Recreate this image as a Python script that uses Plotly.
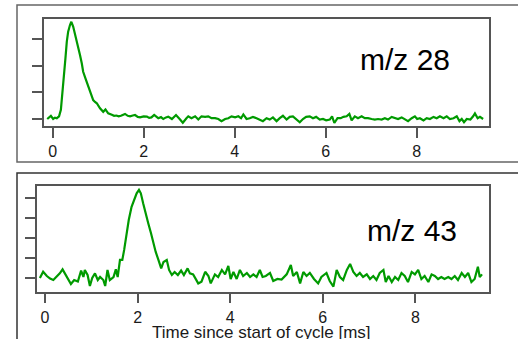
import plotly.graph_objects as go

W, H = 518, 339

# ---- data (time in ms, signal in tick units) ----
T28 = [-0.12, -0.04, 0.01, 0.05, 0.09, 0.14, 0.18, 0.22, 0.25, 0.28, 0.31, 0.34, 0.38, 0.41,
       0.45, 0.49, 0.53, 0.56, 0.60, 0.64, 0.67, 0.72, 0.78, 0.84, 0.89, 0.93, 0.97, 1.04,
       1.11, 1.16, 1.22, 1.30, 1.35, 1.40, 1.45, 1.50, 1.59, 1.65, 1.70, 1.76, 1.81, 1.87,
       1.92, 2.00, 2.07, 2.12, 2.17, 2.23, 2.32, 2.38, 2.43, 2.49, 2.54, 2.62, 2.71, 2.79,
       2.86, 2.94, 2.98, 3.05, 3.13, 3.20, 3.27, 3.35, 3.42, 3.49, 3.57, 3.64, 3.71, 3.79,
       3.86, 3.93, 4.01, 4.08, 4.14, 4.19, 4.26, 4.33, 4.40, 4.48, 4.55, 4.62, 4.70, 4.77,
       4.84, 4.92, 4.99, 5.06, 5.14, 5.21, 5.28, 5.36, 5.43, 5.50, 5.57, 5.65, 5.72, 5.79,
       5.87, 5.94, 6.01, 6.09, 6.14, 6.19, 6.26, 6.33, 6.39, 6.46, 6.52, 6.57, 6.64, 6.71,
       6.79, 6.86, 6.93, 7.01, 7.08, 7.15, 7.23, 7.30, 7.37, 7.45, 7.52, 7.59, 7.67, 7.74,
       7.81, 7.89, 7.96, 8.01, 8.07, 8.15, 8.22, 8.29, 8.37, 8.44, 8.51, 8.59, 8.66, 8.73,
       8.81, 8.88, 8.94, 8.99, 9.04, 9.10, 9.18, 9.24, 9.28, 9.34, 9.39, 9.46]
V28 = [0.00, 0.12, 0.00, 0.05, 0.03, 0.10, 0.34, 1.02, 1.65, 2.27, 2.90, 3.27, 3.52, 3.64,
       3.46, 3.20, 2.96, 2.71, 2.40, 2.08, 1.77, 1.52, 1.21, 0.96, 0.71, 0.64, 0.59, 0.40,
       0.27, 0.36, 0.21, 0.16, 0.12, 0.13, 0.10, 0.12, 0.19, 0.12, 0.10, 0.13, 0.15, 0.08,
       0.06, 0.10, 0.09, 0.04, 0.06, 0.15, 0.03, 0.07, 0.00, 0.06, 0.09, 0.00, 0.15, 0.00,
       -0.14, 0.03, 0.10, 0.03, 0.10, -0.02, 0.10, 0.08, 0.10, 0.03, 0.03, 0.00, -0.08, 0.00,
       0.03, 0.10, 0.06, 0.10, 0.03, 0.17, 0.00, 0.03, 0.08, 0.03, -0.02, -0.08, 0.03, -0.02,
       0.06, -0.08, 0.03, 0.12, -0.02, 0.08, 0.10, 0.00, -0.12, 0.00, 0.08, 0.10, 0.03, 0.08,
       -0.02, 0.00, -0.05, -0.02, 0.10, -0.15, 0.03, 0.03, 0.08, 0.10, 0.19, -0.05, 0.10, 0.03,
       0.10, 0.03, 0.03, 0.00, -0.02, 0.00, -0.02, 0.03, -0.02, 0.08, 0.03, 0.00, 0.06, 0.00,
       -0.08, 0.03, 0.10, 0.00, 0.03, -0.05, 0.03, 0.00, 0.08, 0.03, 0.10, 0.03, 0.10, 0.00,
       0.03, 0.10, -0.08, 0.00, -0.12, 0.00, -0.02, 0.10, 0.21, 0.03, 0.08, 0.00]

T43 = [-0.11, -0.04, 0.04, 0.11, 0.18, 0.25, 0.32, 0.38, 0.45, 0.50, 0.56, 0.63, 0.71, 0.78,
       0.83, 0.86, 0.92, 0.97, 1.02, 1.08, 1.14, 1.19, 1.26, 1.30, 1.35, 1.40, 1.48, 1.53,
       1.57, 1.62, 1.67, 1.71, 1.76, 1.81, 1.87, 1.93, 1.98, 2.03, 2.07, 2.12, 2.17, 2.23,
       2.29, 2.34, 2.39, 2.45, 2.51, 2.56, 2.63, 2.68, 2.74, 2.80, 2.87, 2.94, 3.00, 3.08,
       3.13, 3.20, 3.31, 3.38, 3.46, 3.53, 3.58, 3.67, 3.74, 3.82, 3.89, 3.96, 4.01, 4.07,
       4.14, 4.21, 4.28, 4.36, 4.43, 4.50, 4.57, 4.64, 4.70, 4.77, 4.86, 4.93, 5.02, 5.11,
       5.22, 5.31, 5.36, 5.44, 5.51, 5.58, 5.65, 5.72, 5.81, 5.90, 5.97, 6.08, 6.15, 6.23,
       6.30, 6.37, 6.44, 6.52, 6.59, 6.66, 6.73, 6.80, 6.87, 6.95, 7.02, 7.09, 7.16, 7.23,
       7.31, 7.36, 7.42, 7.49, 7.56, 7.63, 7.70, 7.77, 7.84, 7.92, 7.99, 8.06, 8.13, 8.20,
       8.28, 8.35, 8.42, 8.49, 8.56, 8.63, 8.71, 8.78, 8.85, 8.92, 9.00, 9.07, 9.14, 9.21,
       9.28, 9.35, 9.39, 9.44]
V43 = [0.00, 0.31, 0.10, -0.03, -0.10, 0.05, 0.23, 0.43, 0.15, -0.10, -0.30, -0.10, -0.18, 0.37,
       0.05, 0.40, 0.15, -0.40, 0.00, 0.23, -0.10, 0.05, -0.10, -0.40, 0.40, -0.10, 0.05, 0.43,
       0.05, 0.90, 0.90, 1.40, 2.20, 2.90, 3.55, 3.90, 4.22, 4.39, 4.22, 3.72, 3.23, 2.73,
       2.23, 1.73, 1.31, 0.90, 0.48, 0.80, 0.90, 0.40, 0.15, 0.30, 0.15, 0.37, 0.15, 0.48,
       0.23, 0.18, -0.27, -0.18, 0.31, 0.10, -0.27, 0.18, 0.05, 0.40, 0.18, 0.60, -0.05, 0.30,
       -0.05, 0.40, 0.10, 0.25, 0.05, 0.18, 0.05, 0.40, 0.05, 0.10, 0.25, -0.15, -0.05, -0.08,
       0.18, 0.65, 0.10, 0.30, -0.27, 0.30, 0.10, 0.25, -0.05, -0.27, 0.05, 0.25, -0.15, -0.43,
       0.40, 0.05, -0.10, 0.40, 0.70, 0.30, 0.10, 0.25, 0.05, 0.18, -0.05, 0.10, -0.10, 0.25,
       0.40, -0.20, 0.10, -0.20, 0.05, -0.10, 0.25, 0.10, -0.20, 0.30, 0.18, 0.40, -0.05, 0.10,
       -0.20, 0.18, 0.10, -0.05, 0.05, -0.05, 0.05, -0.05, 0.10, -0.10, 0.25, 0.05, 0.25, -0.20,
       -0.05, 0.56, 0.05, 0.18]

XTICKS = [0, 2, 4, 6, 8]
YTICKS_TOP = [0, 1, 2, 3]
YTICKS_BOT = [0, 1, 2, 3, 4]
LABEL_TOP = "m/z 28"
LABEL_BOT = "m/z 43"
XTITLE = "Time since start of cycle [ms]"

GREEN = "#009A00"
FRAME = "#555555"
FONT = "Liberation Sans, Arial, sans-serif"


def px_x(p):
    return p / W


def px_y(p):
    return 1 - p / H


fig = go.Figure()
fig.add_trace(go.Scatter(x=T28, y=V28, mode="lines", xaxis="x", yaxis="y",
                         line=dict(color=GREEN, width=2.2), showlegend=False))
fig.add_trace(go.Scatter(x=T43, y=V43, mode="lines", xaxis="x2", yaxis="y2",
                         line=dict(color=GREEN, width=2.2), showlegend=False))

common_x = dict(showgrid=False, zeroline=False, showline=True, mirror=True, linecolor=FRAME,
                linewidth=1.5, ticks="outside", ticklen=10, tickwidth=1.5, tickcolor=FRAME,
                tickvals=XTICKS, tickfont=dict(family=FONT, size=16, color="#1a1a1a"))
common_y = dict(showgrid=False, zeroline=False, showline=True, mirror=True, linecolor=FRAME,
                linewidth=1.5, ticks="outside", ticklen=10, tickwidth=1.5, tickcolor=FRAME,
                showticklabels=False)

fig.update_layout(
    width=W, height=H, margin=dict(l=0, r=0, t=0, b=0),
    paper_bgcolor="white", plot_bgcolor="white",
    xaxis=dict(domain=[px_x(44), px_x(489)], range=[-0.191, 9.589], anchor="y", **common_x),
    yaxis=dict(domain=[px_y(126), px_y(19)], range=[-0.262, 3.745], anchor="x",
               tickvals=YTICKS_TOP, **common_y),
    xaxis2=dict(domain=[px_x(36.7), px_x(489)], range=[-0.179, 9.59], anchor="y2", **common_x),
    yaxis2=dict(domain=[px_y(291.7), px_y(185.7)], range=[-0.683, 4.60], anchor="x2",
                tickvals=YTICKS_BOT, **common_y),
    shapes=[
        dict(type="rect", xref="paper", yref="paper", x0=px_x(17), x1=px_x(530),
             y0=px_y(162), y1=px_y(5), line=dict(color="#666666", width=1.5)),
        dict(type="rect", xref="paper", yref="paper", x0=px_x(17), x1=px_x(530),
             y0=px_y(360), y1=px_y(173), line=dict(color="#333333", width=1.5)),
    ],
    annotations=[
        dict(text=LABEL_TOP, xref="paper", yref="paper", x=px_x(405), y=px_y(59),
             xanchor="center", yanchor="middle", showarrow=False,
             font=dict(family=FONT, size=30, color="black")),
        dict(text=LABEL_BOT, xref="paper", yref="paper", x=px_x(412), y=px_y(230),
             xanchor="center", yanchor="middle", showarrow=False,
             font=dict(family=FONT, size=30, color="black")),
        dict(text=XTITLE, xref="paper", yref="paper", x=px_x(261), y=px_y(321),
             xanchor="center", yanchor="top", showarrow=False,
             font=dict(family=FONT, size=17, color="#1a1a1a")),
    ],
)

fig.write_html("out.html")
